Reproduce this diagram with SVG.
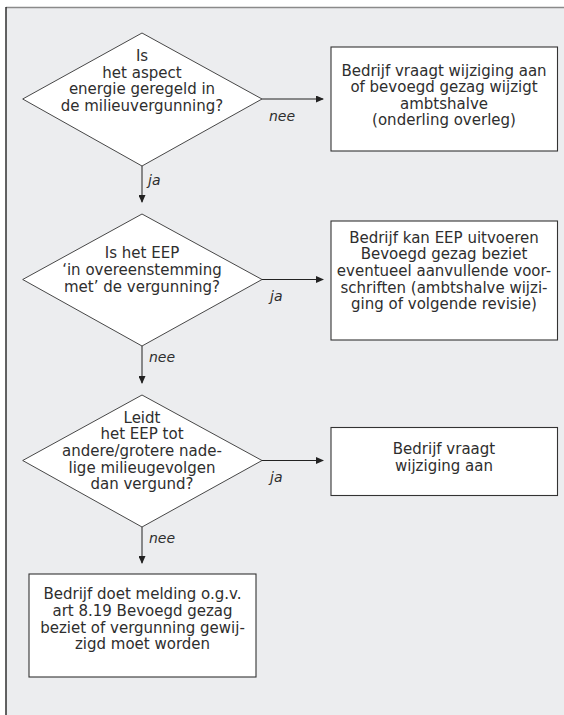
<svg xmlns="http://www.w3.org/2000/svg" width="564" height="715" viewBox="0 0 564 715">
<defs>
<marker id="ah" markerWidth="8" markerHeight="7" refX="7" refY="3.5" orient="auto" markerUnits="userSpaceOnUse">
<path d="M0,0 L8,3.5 L0,7 Z" fill="#222"/>
</marker>
</defs>
<style>
.bg{fill:#ecedef}
.frameTop{stroke:#8a8a8a;stroke-width:1.6;fill:none}
.frameLeft{stroke:#222;stroke-width:1.4;fill:none}
.dia{fill:#fff;stroke:#333;stroke-width:0.9}
.box{fill:#fff;stroke:#333;stroke-width:1.1}
.t{font-family:"DejaVu Sans","Liberation Sans",sans-serif;font-size:15px;fill:#2e2e2e;text-anchor:middle}
.lbl{font-family:"DejaVu Sans","Liberation Sans",sans-serif;font-size:14px;font-style:italic;fill:#2e2e2e}
.c{stroke:#222;stroke-width:1;fill:none;marker-end:url(#ah)}
</style>
<rect x="0" y="0" width="564" height="715" fill="#fff"/>
<rect class="bg" x="6" y="7.5" width="558" height="707.5"/>
<line class="frameTop" x1="6" y1="7.5" x2="564" y2="7.5"/>
<line class="frameLeft" x1="6" y1="7" x2="6" y2="715"/>

<g id="connectors">
<line class="c" x1="262" y1="99" x2="323" y2="99"/>
<line class="c" x1="142" y1="166" x2="142" y2="202"/>
<line class="c" x1="262" y1="279.5" x2="323" y2="279.5"/>
<line class="c" x1="142" y1="346" x2="142" y2="383"/>
<line class="c" x1="262" y1="460.5" x2="323" y2="460.5"/>
<line class="c" x1="142" y1="527" x2="142" y2="563"/>
<text class="lbl" x="269" y="121">nee</text>
<text class="lbl" x="148" y="185">ja</text>
<text class="lbl" x="270" y="301">ja</text>
<text class="lbl" x="149" y="362">nee</text>
<text class="lbl" x="270" y="482">ja</text>
<text class="lbl" x="149" y="543">nee</text>
</g>

<g id="d1">
<polygon class="dia" points="142,33 262,99 142,166 22.7,99"/>
<text class="t" x="142" y="61">Is</text>
<text class="t" x="142" y="77.7">het aspect</text>
<text class="t" x="142" y="94.3">energie geregeld in</text>
<text class="t" x="142" y="111">de milieuvergunning?</text>
</g>

<g id="b1">
<rect class="box" x="331" y="47" width="226.5" height="104"/>
<text class="t" x="444" y="75.5">Bedrijf vraagt wijziging aan</text>
<text class="t" x="444" y="92">of bevoegd gezag wijzigt</text>
<text class="t" x="444" y="108.5">ambtshalve</text>
<text class="t" x="444" y="125">(onderling overleg)</text>
</g>

<g id="d2">
<polygon class="dia" points="142,214 262,279.5 142,346 22.7,279.5"/>
<text class="t" x="142" y="258.3">Is het EEP</text>
<text class="t" x="142" y="275">‘in overeenstemming</text>
<text class="t" x="142" y="291.7">met’ de vergunning?</text>
</g>

<g id="b2">
<rect class="box" x="331" y="221" width="226.5" height="119"/>
<text class="t" x="444" y="242.7">Bedrijf kan EEP uitvoeren</text>
<text class="t" x="444" y="259.3">Bevoegd gezag beziet</text>
<text class="t" x="444" y="276">eventueel aanvullende voor-</text>
<text class="t" x="444" y="292.7">schriften (ambtshalve wijzi-</text>
<text class="t" x="444" y="309.3">ging of volgende revisie)</text>
</g>

<g id="d3">
<polygon class="dia" points="142,395 262,460.5 142,527 22.7,460.5"/>
<text class="t" x="142" y="422.7">Leidt</text>
<text class="t" x="142" y="439.3">het EEP tot</text>
<text class="t" x="142" y="456">andere/grotere nade-</text>
<text class="t" x="142" y="472.7">lige milieugevolgen</text>
<text class="t" x="142" y="489.3">dan vergund?</text>
</g>

<g id="b3">
<rect class="box" x="331" y="427.5" width="226.5" height="68"/>
<text class="t" x="444" y="454">Bedrijf vraagt</text>
<text class="t" x="444" y="470.7">wijziging aan</text>
</g>

<g id="b4">
<rect class="box" x="29" y="574" width="227" height="103"/>
<text class="t" x="142.5" y="599.3">Bedrijf doet melding o.g.v.</text>
<text class="t" x="142.5" y="616">art 8.19 Bevoegd gezag</text>
<text class="t" x="142.5" y="632.7">beziet of vergunning gewij-</text>
<text class="t" x="142.5" y="649.3">zigd moet worden</text>
</g>
</svg>
